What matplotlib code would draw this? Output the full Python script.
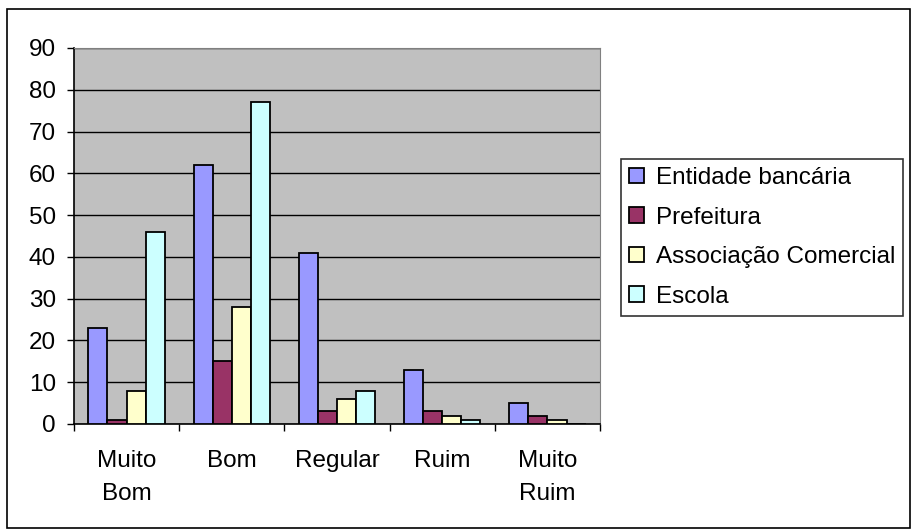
import numpy as np
import matplotlib.pyplot as plt
from matplotlib.patches import Rectangle

plt.rcParams['font.family'] = ['Liberation Sans', 'DejaVu Sans']

categorias = ["Muito\nBom", "Bom", "Regular", "Ruim", "Muito\nRuim"]
series = ["Entidade bancária", "Prefeitura", "Associação Comercial", "Escola"]
entidade_bancaria = [23, 62, 41, 13, 5]
prefeitura = [1, 15, 3, 3, 2]
associacao_comercial = [8, 28, 6, 2, 1]
escola = [46, 77, 8, 1, 0]
cores = ["#9999FF", "#993366", "#FFFFCC", "#CCFFFF"]

valores = [entidade_bancaria, prefeitura, associacao_comercial, escola]
fs = 17.5

fig = plt.figure(figsize=(9.12, 5.29), dpi=100)
# borda externa do gráfico
fig.patches.append(Rectangle((7 / 912, 1 / 529), 903 / 912, 519 / 529,
                             transform=fig.transFigure, fill=False,
                             edgecolor="black", linewidth=1.2))

ax = fig.add_axes([74 / 912, 1 - 424 / 529, 526 / 912, 376 / 529])
ax.set_facecolor("#C0C0C0")

x = np.arange(len(categorias))
w = 1 / 5.5
for i, (nome, vals, cor) in enumerate(zip(series, valores, cores)):
    ax.bar(x + (i - 1.5) * w, vals, width=w, color=cor, edgecolor="black",
           linewidth=1.3, label=nome, zorder=3)

ax.set_xlim(-0.5, len(categorias) - 0.5)
ax.set_ylim(0, 90)
ax.set_yticks(range(0, 91, 10))
ax.yaxis.grid(True, color="black", linewidth=1, zorder=1)
ax.set_axisbelow(True)

ax.set_xticks(np.arange(-0.5, len(categorias)), minor=False)
ax.set_xticklabels([])
ax.set_xticks(x, minor=True)
ax.set_xticklabels(categorias, minor=True, fontsize=fs, linespacing=1.62)
ax.tick_params(axis="x", which="minor", length=0, pad=19)
ax.tick_params(axis="x", which="major", length=5, width=1, direction="out")
ax.tick_params(axis="y", length=5, width=1, direction="out", labelsize=fs, pad=8)

for s in ["top", "right"]:
    ax.spines[s].set_color("#808080")
for s in ["left", "bottom"]:
    ax.spines[s].set_color("black")
    ax.spines[s].set_linewidth(1.2)

leg = fig.legend(loc="upper left", bbox_to_anchor=(621 / 912, 1 - 159 / 529),
                 fontsize=fs, frameon=True, fancybox=False, edgecolor="black",
                 handlelength=0.6, handleheight=0.6, handletextpad=0.5,
                 labelspacing=0.72, borderpad=0.33, borderaxespad=0)
leg.get_frame().set_linewidth(1.2)

fig.savefig("out.png", dpi=100)
